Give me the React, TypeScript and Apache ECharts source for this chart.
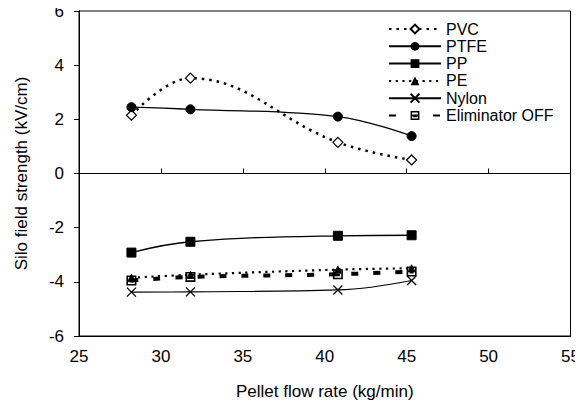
import React, { useEffect, useRef } from "react";
import * as echarts from "echarts";

const flowRates = [28.2, 31.8, 40.8, 45.3];
const pvc = [2.15, 3.52, 1.15, 0.5];
const ptfe = [2.45, 2.37, 2.1, 1.38];
const pp = [-2.92, -2.52, -2.3, -2.28];
const pe = [-3.85, -3.74, -3.55, -3.5];
const nylon = [-4.38, -4.37, -4.3, -3.95];
const eliminatorOff = [-3.95, -3.82, -3.72, -3.62];

const FONT = "Liberation Sans, Arial, sans-serif";

const pair = (ys: number[]) => flowRates.map((x, i) => [x, ys[i]]);

export default function App() {
  const ref = useRef<HTMLDivElement>(null);
  useEffect(() => {
    const chart = echarts.init(ref.current!, null, { renderer: "svg" });
    const base = {
      type: "line",
      smooth: 0.4,
      xAxisIndex: 0,
      yAxisIndex: 0,
    };
    chart.setOption({
      animation: false,
      backgroundColor: "#fff",
      grid: {
        left: 79,
        right: 10,
        top: 11,
        bottom: 75,
        show: true,
        borderColor: "#000",
        borderWidth: 1,
      },
      legend: {
        orient: "vertical",
        left: 383,
        top: 16,
        itemWidth: 52,
        itemHeight: 11,
        itemGap: 1.3,
        textStyle: { fontFamily: FONT, fontSize: 16, color: "#000" },
        data: ["PVC", "PTFE", "PP", "PE", "Nylon", "Eliminator OFF"],
      },
      xAxis: [
        {
          type: "value",
          min: 25,
          max: 55,
          interval: 5,
          position: "bottom",
          name: "Pellet flow rate (kg/min)",
          nameLocation: "middle",
          nameGap: 47,
          nameTextStyle: { fontFamily: FONT, fontSize: 17, color: "#000" },
          axisLine: { onZero: false, lineStyle: { color: "#000" } },
          axisTick: { show: false },
          axisLabel: { fontFamily: FONT, fontSize: 17, color: "#000", margin: 12 },
          splitLine: { show: false },
        },
        {
          type: "value",
          min: 25,
          max: 55,
          interval: 5,
          position: "bottom",
          axisLine: { onZero: true, lineStyle: { color: "#000" } },
          axisTick: { show: true, inside: true, length: 5, lineStyle: { color: "#000" } },
          axisLabel: { show: false },
          splitLine: { show: false },
        },
      ],
      yAxis: {
        type: "value",
        min: -6,
        max: 6,
        interval: 2,
        name: "Silo field strength (kV/cm)",
        nameLocation: "middle",
        nameGap: 49,
        nameTextStyle: { fontFamily: FONT, fontSize: 17, color: "#000" },
        axisLine: { show: true, lineStyle: { color: "#000" } },
        axisTick: { show: true, length: 5, lineStyle: { color: "#000" } },
        axisLabel: { fontFamily: FONT, fontSize: 17, color: "#000", margin: 15 },
        splitLine: { show: false },
      },
      series: [
        {
          ...base,
          name: "PVC",
          data: pair(pvc),
          symbol: "diamond",
          symbolSize: 10,
          lineStyle: { color: "#000", width: 2.5, type: [2.5, 5] },
          itemStyle: { color: "#fff", borderColor: "#000", borderWidth: 1.2 },
        },
        {
          ...base,
          name: "PTFE",
          data: pair(ptfe),
          symbol: "circle",
          symbolSize: 9,
          lineStyle: { color: "#000", width: 1.3 },
          itemStyle: { color: "#000", borderColor: "#000" },
        },
        {
          ...base,
          name: "PP",
          data: pair(pp),
          symbol: "rect",
          symbolSize: 9,
          lineStyle: { color: "#000", width: 1.3 },
          itemStyle: { color: "#000", borderColor: "#000" },
        },
        {
          ...base,
          name: "PE",
          data: pair(pe),
          symbol: "triangle",
          symbolSize: 7,
          lineStyle: { color: "#000", width: 2.2, type: [2.2, 4.5] },
          itemStyle: { color: "#000", borderColor: "#000" },
        },
        {
          ...base,
          name: "Nylon",
          data: pair(nylon),
          symbol: "path://M0,0L10,10M10,0L0,10",
          symbolSize: 9,
          lineStyle: { color: "#000", width: 1.2 },
          itemStyle: { color: "none", borderColor: "#000", borderWidth: 1.3 },
        },
        {
          ...base,
          name: "Eliminator OFF",
          data: pair(eliminatorOff),
          symbol: "path://M0,0H10V10H0Z M1.6,1.6V8.4H8.4V1.6Z M3,4.5H7V7H3Z",
          symbolSize: 10,
          lineStyle: { color: "#000", width: 4, type: [7, 15] },
          itemStyle: { color: "#000", borderColor: "#000", borderWidth: 0 },
        },
      ],
    });
    return () => chart.dispose();
  }, []);
  return <div ref={ref} style={{ width: 583, height: 411, margin: -8 }} />;
}
